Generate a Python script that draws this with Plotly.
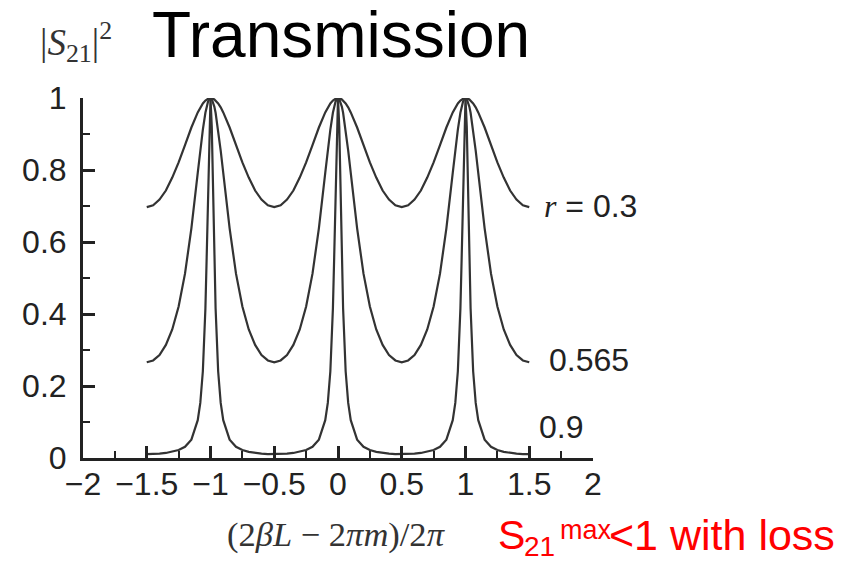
import plotly.graph_objects as go

# Phase axis (2βL − 2πm)/2π
x_vals = [
    -1.5, -1.45, -1.4, -1.35, -1.3, -1.25, -1.2, -1.15, -1.1, -1.08, -1.06, -1.04, -1.03, -1.02, -1.01,
    -1.0, -0.99, -0.98, -0.97, -0.96, -0.94, -0.92, -0.9, -0.85, -0.8, -0.75, -0.7, -0.65, -0.6, -0.55,
    -0.5, -0.45, -0.4, -0.35, -0.3, -0.25, -0.2, -0.15, -0.1, -0.08, -0.06, -0.04, -0.03, -0.02, -0.01,
    0.0, 0.01, 0.02, 0.03, 0.04, 0.06, 0.08, 0.1, 0.15, 0.2, 0.25, 0.3, 0.35, 0.4, 0.45,
    0.5, 0.55, 0.6, 0.65, 0.7, 0.75, 0.8, 0.85, 0.9, 0.92, 0.94, 0.96, 0.97, 0.98, 0.99,
    1.0, 1.01, 1.02, 1.03, 1.04, 1.06, 1.08, 1.1, 1.15, 1.2, 1.25, 1.3, 1.35, 1.4, 1.45,
    1.5,
]

# |S21|^2 for r = 0.3
s21_r030 = [
    0.697, 0.702, 0.718, 0.743, 0.779, 0.821, 0.869, 0.918, 0.960, 0.974, 0.985, 0.993, 0.996, 0.998, 1.0,
    1.0, 1.0, 0.998, 0.996, 0.993, 0.985, 0.974, 0.960, 0.918, 0.869, 0.821, 0.779, 0.743, 0.718, 0.702,
    0.697, 0.702, 0.718, 0.743, 0.779, 0.821, 0.869, 0.918, 0.960, 0.974, 0.985, 0.993, 0.996, 0.998, 1.0,
    1.0, 1.0, 0.998, 0.996, 0.993, 0.985, 0.974, 0.960, 0.918, 0.869, 0.821, 0.779, 0.743, 0.718, 0.702,
    0.697, 0.702, 0.718, 0.743, 0.779, 0.821, 0.869, 0.918, 0.960, 0.974, 0.985, 0.993, 0.996, 0.998, 1.0,
    1.0, 1.0, 0.998, 0.996, 0.993, 0.985, 0.974, 0.960, 0.918, 0.869, 0.821, 0.779, 0.743, 0.718, 0.702,
    0.697,
]

# |S21|^2 for r = 0.565
s21_r0565 = [
    0.266, 0.271, 0.286, 0.314, 0.357, 0.421, 0.512, 0.638, 0.792, 0.854, 0.912, 0.959, 0.976, 0.989, 0.997,
    1.0, 0.997, 0.989, 0.976, 0.959, 0.912, 0.854, 0.792, 0.638, 0.512, 0.421, 0.357, 0.314, 0.286, 0.271,
    0.266, 0.271, 0.286, 0.314, 0.357, 0.421, 0.512, 0.638, 0.792, 0.854, 0.912, 0.959, 0.976, 0.989, 0.997,
    1.0, 0.997, 0.989, 0.976, 0.959, 0.912, 0.854, 0.792, 0.638, 0.512, 0.421, 0.357, 0.314, 0.286, 0.271,
    0.266, 0.271, 0.286, 0.314, 0.357, 0.421, 0.512, 0.638, 0.792, 0.854, 0.912, 0.959, 0.976, 0.989, 0.997,
    1.0, 0.997, 0.989, 0.976, 0.959, 0.912, 0.854, 0.792, 0.638, 0.512, 0.421, 0.357, 0.314, 0.286, 0.271,
    0.266,
]

# |S21|^2 for r = 0.9
s21_r090 = [
    0.011, 0.011, 0.012, 0.014, 0.017, 0.022, 0.031, 0.051, 0.105, 0.153, 0.241, 0.415, 0.557, 0.739, 0.919,
    1.0, 0.919, 0.739, 0.557, 0.415, 0.241, 0.153, 0.105, 0.051, 0.031, 0.022, 0.017, 0.014, 0.012, 0.011,
    0.011, 0.011, 0.012, 0.014, 0.017, 0.022, 0.031, 0.051, 0.105, 0.153, 0.241, 0.415, 0.557, 0.739, 0.919,
    1.0, 0.919, 0.739, 0.557, 0.415, 0.241, 0.153, 0.105, 0.051, 0.031, 0.022, 0.017, 0.014, 0.012, 0.011,
    0.011, 0.011, 0.012, 0.014, 0.017, 0.022, 0.031, 0.051, 0.105, 0.153, 0.241, 0.415, 0.557, 0.739, 0.919,
    1.0, 0.919, 0.739, 0.557, 0.415, 0.241, 0.153, 0.105, 0.051, 0.031, 0.022, 0.017, 0.014, 0.012, 0.011,
    0.011,
]

series = [("r = 0.3", s21_r030), ("0.565", s21_r0565), ("0.9", s21_r090)]
curve_labels = ["<span style='font-family:Liberation Serif'><i>r</i></span> = 0.3", "0.565", "0.9"]
label_pos = [(1.6, 0.70), (1.64, 0.272), (1.56, 0.086)]

W, H = 844, 562
ML, MR, MT, MB = 83, 251, 98, 104
PW, PH = W - ML - MR, H - MT - MB

def px2paper(px, py):
    return (px - ML) / PW, (H - MB - py) / PH

SANS = "Liberation Sans, Arial, sans-serif"
SERIF = "Liberation Serif, Times New Roman, serif"
INK = "#222222"

fig = go.Figure()
for name, ys in series:
    fig.add_trace(go.Scatter(x=x_vals, y=ys, mode="lines", name=name,
                             line=dict(color="#333333", width=2.2), showlegend=False))

annotations = []
for txt, (lx, ly) in zip(curve_labels, label_pos):
    annotations.append(dict(x=lx, y=ly, xref="x", yref="y", text=txt, showarrow=False,
                            xanchor="left", yanchor="middle",
                            font=dict(family=SANS, size=32, color=INK)))

def add_text(text, px, py, size, family, color, xanchor="left"):
    ax_, ay_ = px2paper(px, py)
    annotations.append(dict(x=ax_, y=ay_, xref="paper", yref="paper", text=text,
                            showarrow=False, xanchor=xanchor, yanchor="middle",
                            font=dict(family=family, size=size, color=color)))

# title
add_text("Transmission", 341, 35, 64, SANS, "#000000", xanchor="center")
# y-axis label
add_text("|<i>S</i><sub>21</sub>|<sup>2</sup>", 38, 42, 37, SERIF, "#333333")
# x-axis label
add_text("(2<i>βL</i> − 2<i>πm</i>)/2<i>π</i>", 336, 534, 34.5, SERIF, "#333333", xanchor="center")
# red note: S_21^max<1 with loss
RED = "#ff0000"
add_text("S", 496, 535, 41, SANS, RED)
add_text("21", 522, 546, 28, SANS, RED)
add_text("max", 558, 530, 27, SANS, RED)
add_text("&lt;1 with loss", 607, 535, 43, SANS, RED)

axis_common = dict(showgrid=False, zeroline=False, showline=True, linecolor=INK, linewidth=3,
                   ticks="inside", ticklen=12, tickwidth=2.5, tickcolor=INK,
                   tickfont=dict(family=SANS, size=32, color=INK))

fig.update_layout(
    width=W, height=H,
    margin=dict(l=ML, r=MR, t=MT, b=MB, pad=0),
    paper_bgcolor="white", plot_bgcolor="white",
    xaxis=dict(range=[-2, 2], tick0=0, dtick=0.5, ticklabelstandoff=-4,
               minor=dict(dtick=0.25, ticks="inside", ticklen=7, tickwidth=2, tickcolor=INK),
               **axis_common),
    yaxis=dict(range=[0, 1], tick0=0, dtick=0.2, ticklabelstandoff=7,
               minor=dict(dtick=0.1, ticks="inside", ticklen=7, tickwidth=2, tickcolor=INK),
               **axis_common),
    annotations=annotations,
)

fig.write_html("out.html")
